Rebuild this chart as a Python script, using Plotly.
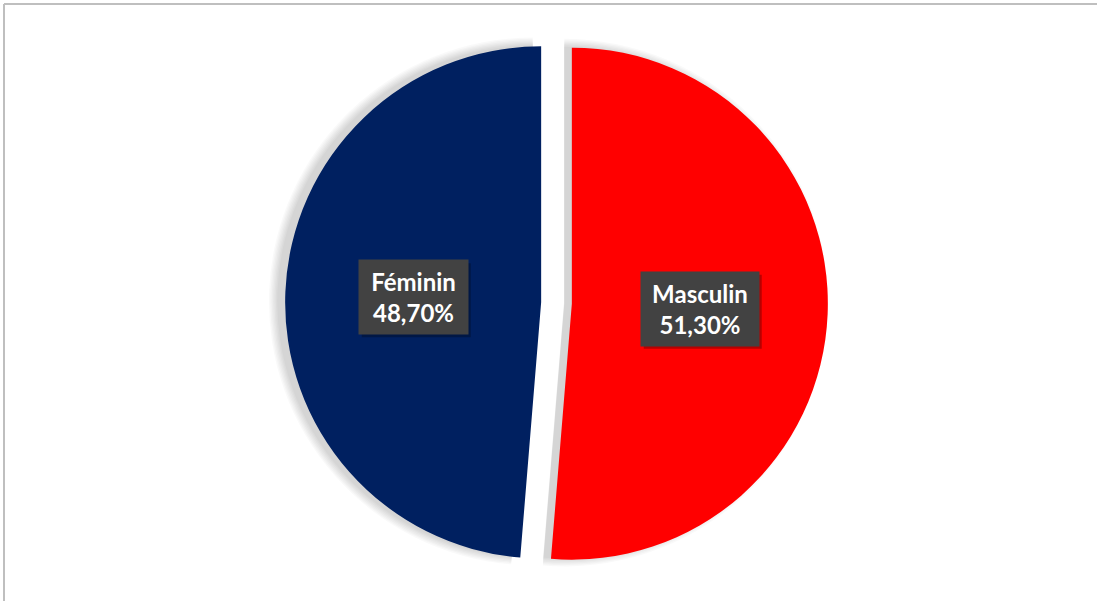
import math
import plotly.graph_objects as go

# Répartition par sexe
labels = ["Masculin", "Féminin"]
values = [51.30, 48.70]
colors = ["#FF0000", "#002060"]

W, H = 1097, 601
PULL = 0.06
RADIUS = 256          # pie radius in px
CX, CY = 556.5, 298   # pie centre in px (y measured from bottom)
BOX_W = {"Masculin": 118, "Féminin": 109}   # label box size in px
BOX_H = 74
PAD = 6


def pie_domain(cx, cy, r, pull):
    half = r * (1 + pull)
    return dict(x=[(cx - half) / W, (cx + half) / W],
                y=[(cy - half) / H, (cy + half) / H])


fig = go.Figure()

# soft drop shadow: stacked translucent grey pies offset to the left
for k in range(7):
    grow = 1.3 * k
    fig.add_trace(go.Pie(
        labels=labels, values=values, sort=False, direction="clockwise",
        rotation=0, pull=PULL, textinfo="none", hoverinfo="skip",
        marker=dict(colors=["rgba(0,0,0,0.025)"] * len(values)),
        domain=pie_domain(CX - 8, CY + 1, RADIUS + grow, PULL),
        showlegend=False,
    ))

fig.add_trace(go.Pie(
    labels=labels, values=values, sort=False, direction="clockwise",
    rotation=0, pull=PULL, textinfo="none",
    marker=dict(colors=colors),
    domain=pie_domain(CX, CY, RADIUS, PULL),
    showlegend=False,
))

# data labels: dark boxes placed on each slice's bisector
total = sum(values)
cum = 0.0
annotations = []
shapes = []
for lab, v in zip(labels, values):
    mid = math.radians((cum + v / 2) / total * 360)
    cum += v
    dist = RADIUS * (PULL + 0.5)
    px = CX + dist * math.sin(mid)
    py = CY + dist * math.cos(mid)
    txt = f"<b>{lab}</b><br><b>{v:.2f}".replace(".", ",") + "%</b>"
    bw = BOX_W[lab]
    # label drop shadow
    shapes.append(dict(
        type="rect", xref="paper", yref="paper",
        xsizemode="pixel", ysizemode="pixel",
        xanchor=px / W, yanchor=py / H,
        x0=-bw / 2 + 3, x1=bw / 2 + 3, y0=-BOX_H / 2 - 3, y1=BOX_H / 2 - 3,
        fillcolor="rgba(0,0,0,0.28)", line=dict(width=0), layer="above",
    ))
    annotations.append(dict(
        x=px / W, y=py / H, xref="paper", yref="paper",
        text=txt, showarrow=False, bgcolor="#424242",
        width=bw - 2 * PAD, height=BOX_H - 2 * PAD, borderpad=PAD,
        font=dict(family="Lato", size=24, color="#FFFFFF"),
        xanchor="center", yanchor="middle", align="center", valign="middle",
    ))

# chart frame (top and left edges)
shapes += [
    dict(type="line", xref="paper", yref="paper",
         x0=4 / W, x1=1.0, y0=1 - 4 / H, y1=1 - 4 / H,
         line=dict(color="#BFBFBF", width=2)),
    dict(type="line", xref="paper", yref="paper",
         x0=4 / W, x1=4 / W, y0=0, y1=1 - 4 / H,
         line=dict(color="#BFBFBF", width=2)),
]

fig.update_layout(
    width=W, height=H,
    margin=dict(l=0, r=0, t=0, b=0),
    paper_bgcolor="white", plot_bgcolor="white",
    annotations=annotations,
    shapes=shapes,
)

fig.write_html("out.html")
